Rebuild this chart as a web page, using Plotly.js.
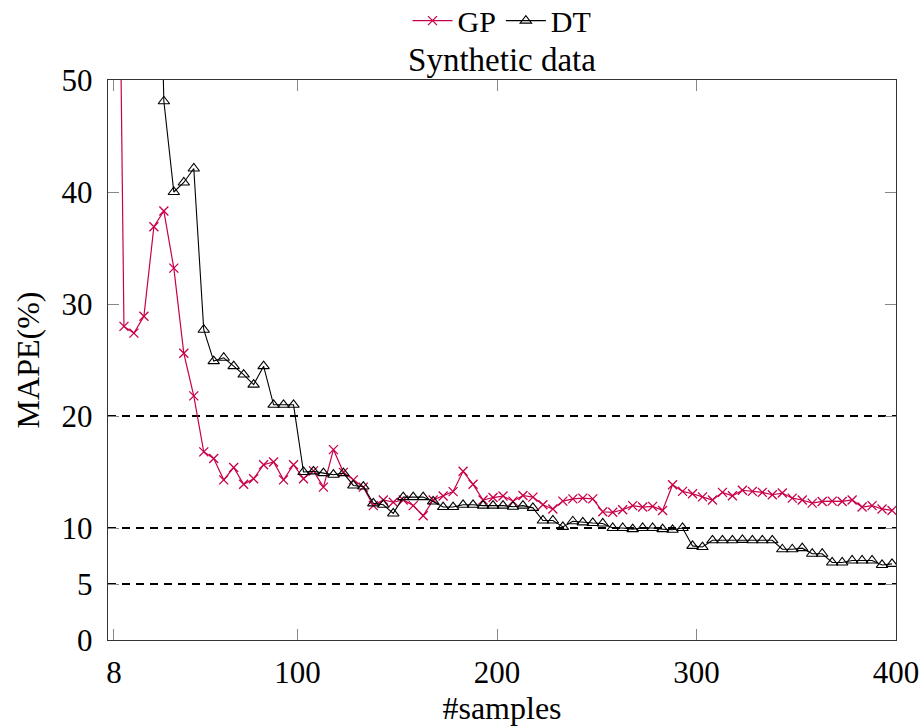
<!DOCTYPE html>
<html>
<head>
<meta charset="utf-8">
<script src="https://cdn.plot.ly/plotly-3.0.1.min.js"></script>
<style>html,body{margin:0;padding:0;background:#fff;}</style>
</head>
<body>
<div id="chart" style="width:922px;height:726px;"></div>
<script>
const samples = [8,13,18,23,28,33,38,43,48,53,58,63,68,73,78,83,88,93,98,
  103,108,113,118,123,128,133,138,143,148,153,158,163,168,173,178,183,188,193,198,
  203,208,213,218,223,228,233,238,243,248,253,258,263,268,273,278,283,288,293,298,
  303,308,313,318,323,328,333,338,343,348,353,358,363,368,373,378,383,388,393,398];

const gpMape = [105,28.0,27.4,28.9,36.9,38.3,33.2,25.6,21.8,16.8,16.2,14.3,15.4,13.9,14.4,15.65,15.9,14.3,15.65,
  14.4,15.1,13.65,17.0,14.97,14.3,13.65,12.0,12.5,12.3,12.5,12.0,11.1,12.5,12.85,13.25,15.06,13.9,12.5,12.72,
  12.85,12.4,12.9,12.76,12.07,11.7,12.4,12.6,12.67,12.6,11.45,11.4,11.63,12.0,11.87,11.93,11.57,13.86,13.27,13.06,
  12.78,12.5,13.18,12.88,13.37,13.27,13.18,12.97,13.12,12.67,12.5,12.22,12.37,12.4,12.37,12.5,11.87,12.0,11.7,11.57];

const dtMape = [150,130,115,100,85,48.1,40.0,40.85,42.1,27.7,24.9,25.2,24.45,23.7,22.8,24.45,21.0,21.0,21.0,
  15.0,15.06,14.9,14.76,14.9,13.8,13.7,12.2,12.07,11.3,12.76,12.76,12.76,12.37,11.87,11.87,12.07,12.07,12.0,12.0,
  12.0,11.9,12.0,11.8,10.67,10.67,10.1,10.6,10.5,10.45,10.4,10.0,10.0,9.9,10.0,10.0,9.9,9.84,10.0,8.4,
  8.3,8.9,8.9,8.9,8.94,8.9,8.9,8.9,8.1,8.1,8.2,7.7,7.7,6.92,6.92,7.1,7.1,7.1,6.7,6.8];

const xTicks = [8,100,200,300,400];
const yTicks = [0,5,10,20,30,40,50];
const refLines = [5,10,20];

const FONT = "Liberation Serif, Times New Roman, serif";
const RED = "#c8004a";

const traces = [
  {
    x: [null], y: [null], xaxis: "x", yaxis: "y2", type: "scatter", mode: "lines",
    showlegend: false, hoverinfo: "skip"
  },
  {
    x: samples, y: gpMape, name: "GP", type: "scatter", mode: "lines+markers",
    line: {color: RED, width: 1.2},
    marker: {symbol: "x-thin", size: 9, color: RED, line: {color: RED, width: 1.3}}
  },
  {
    x: samples, y: dtMape, name: "DT", type: "scatter", mode: "lines+markers",
    line: {color: "#000", width: 1.1},
    marker: {symbol: "triangle-up-open", size: 10, color: "#000", line: {color: "#000", width: 1.1}}
  }
];

const layout = {
  width: 922, height: 726,
  margin: {l: 108, r: 26, t: 80, b: 86, autoexpand: false},
  paper_bgcolor: "#fff", plot_bgcolor: "#fff",
  font: {family: FONT, size: 31, color: "#000"},
  showlegend: true,
  legend: {orientation: "h", x: 0.5, xanchor: "center", y: 1.106, yanchor: "middle",
           font: {family: FONT, size: 30}, bgcolor: "rgba(0,0,0,0)", itemwidth: 40, tracegroupgap: 0},
  title: {text: "Synthetic data", x: 0.5, xref: "paper", xanchor: "center", y: 0.918, yanchor: "middle",
          font: {family: FONT, size: 33, color: "#000"}},
  xaxis: {
    range: [5, 400], tickmode: "array", tickvals: xTicks, ticktext: xTicks.map(String),
    ticks: "inside", ticklen: 11, tickwidth: 1, tickcolor: "#888",
    showline: true, linecolor: "#333", linewidth: 1.3, mirror: "ticks",
    showgrid: false, zeroline: false, ticklabelstandoff: 4, automargin: false,
    tickfont: {family: FONT, size: 31},
    title: {text: "#samples", font: {family: FONT, size: 32}, standoff: 12}
  },
  yaxis: {
    range: [0, 50], tickmode: "array", tickvals: yTicks, ticktext: yTicks.map(String),
    ticks: "inside", ticklen: 11, tickwidth: 1, tickcolor: "#888",
    showline: true, linecolor: "#333", linewidth: 1.3, mirror: "ticks",
    showgrid: false, zeroline: false, ticklabelstandoff: 8, automargin: false,
    tickfont: {family: FONT, size: 31},
    title: {text: "MAPE(%)", font: {family: FONT, size: 32}, standoff: 12}
  },
  yaxis2: {
    overlaying: "y", range: [0, 50], tickmode: "array", tickvals: refLines,
    showgrid: true, gridcolor: "#000", gridwidth: 1.1, griddash: "8px,6px",
    showticklabels: false, ticks: "", showline: false, zeroline: false, automargin: false
  }
};

Plotly.newPlot("chart", traces, layout, {staticPlot: true, displayModeBar: false});
</script>
</body>
</html>
